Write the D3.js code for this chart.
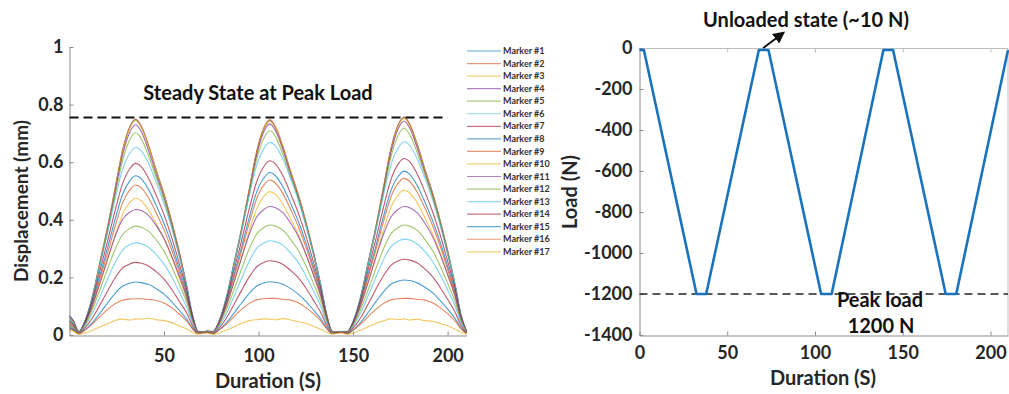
<!DOCTYPE html>
<html>
<head>
<meta charset="utf-8">
<script src="https://cdn.jsdelivr.net/npm/d3@7"></script>
<style>
  body { margin: 0; background: #fff; }
  text { font-family: Lato, "Open Sans", sans-serif; font-weight: 700; }
</style>
</head>
<body>
<svg id="chart" width="1009" height="394"></svg>
<script>
// ---- Displacement of 17 tracked markers over three load cycles (mm) ----
const time = [
  0, 2, 5, 8, 12, 16, 20, 24, 28, 32, 35, 38, 42, 46, 50, 54, 58, 62, 65, 68,
  71, 73, 76, 79, 83, 87, 91, 95, 99, 103, 106, 109, 113, 117, 121, 125, 129, 133, 136, 139,
  142, 144, 147, 150, 154, 158, 162, 166, 170, 174, 177, 180, 184, 188, 192, 196, 200, 204, 207, 210
];

const marker1 = [
  0.068,0.05,0.01,0.045,0.13,0.249,0.369,0.503,0.638,0.723,0.748,0.723,0.653,0.568,0.488,0.394,0.289,0.17,0.07,0.012,
  0.012,0.014,0.01,0.045,0.129,0.248,0.367,0.501,0.635,0.72,0.745,0.72,0.65,0.566,0.486,0.393,0.288,0.169,0.069,0.012,
  0.01,0.012,0.01,0.045,0.131,0.252,0.373,0.509,0.645,0.731,0.756,0.731,0.66,0.575,0.494,0.398,0.293,0.172,0.07,0.012
];
const marker2 = [
  0.062,0.048,0.01,0.045,0.13,0.25,0.37,0.505,0.64,0.725,0.75,0.725,0.655,0.57,0.49,0.395,0.29,0.17,0.07,0.012,
  0.011,0.013,0.01,0.045,0.129,0.249,0.369,0.503,0.638,0.723,0.748,0.723,0.653,0.568,0.488,0.394,0.289,0.17,0.07,0.012,
  0.01,0.012,0.01,0.045,0.131,0.252,0.373,0.509,0.646,0.732,0.757,0.732,0.661,0.575,0.494,0.399,0.293,0.172,0.07,0.012
];
const marker3 = [
  0.06,0.046,0.01,0.044,0.129,0.248,0.367,0.501,0.635,0.72,0.745,0.72,0.65,0.566,0.486,0.393,0.288,0.169,0.069,0.012,
  0.011,0.013,0.01,0.044,0.128,0.247,0.366,0.499,0.633,0.718,0.742,0.718,0.648,0.564,0.485,0.391,0.287,0.168,0.069,0.012,
  0.01,0.012,0.01,0.045,0.13,0.25,0.371,0.506,0.641,0.727,0.752,0.727,0.656,0.572,0.491,0.396,0.291,0.171,0.07,0.012
];
const marker4 = [
  0.064,0.05,0.01,0.044,0.126,0.243,0.36,0.491,0.623,0.706,0.73,0.706,0.637,0.555,0.477,0.385,0.283,0.166,0.068,0.012,
  0.011,0.013,0.01,0.044,0.127,0.244,0.361,0.493,0.625,0.709,0.733,0.709,0.64,0.557,0.479,0.386,0.284,0.166,0.068,0.012,
  0.01,0.012,0.01,0.045,0.128,0.247,0.366,0.499,0.633,0.718,0.742,0.718,0.648,0.564,0.485,0.391,0.287,0.168,0.069,0.012
];
const marker5 = [
  0.058,0.044,0.011,0.044,0.126,0.242,0.355,0.481,0.604,0.68,0.702,0.681,0.618,0.544,0.469,0.379,0.277,0.165,0.068,0.012,
  0.011,0.013,0.011,0.044,0.128,0.245,0.358,0.486,0.61,0.686,0.709,0.688,0.624,0.549,0.474,0.383,0.28,0.167,0.069,0.012,
  0.01,0.012,0.011,0.045,0.129,0.248,0.363,0.492,0.617,0.695,0.718,0.696,0.632,0.556,0.48,0.388,0.284,0.169,0.07,0.012
];
const marker6 = [
  0.055,0.04,0.013,0.046,0.13,0.241,0.352,0.469,0.574,0.632,0.652,0.639,0.593,0.528,0.456,0.372,0.274,0.17,0.072,0.013,
  0.011,0.013,0.013,0.047,0.134,0.248,0.361,0.482,0.589,0.649,0.669,0.656,0.609,0.542,0.468,0.381,0.281,0.174,0.074,0.013,
  0.01,0.012,0.013,0.047,0.134,0.248,0.362,0.483,0.59,0.651,0.671,0.658,0.611,0.544,0.47,0.382,0.282,0.174,0.074,0.013
];
const marker7 = [
  0.05,0.037,0.012,0.042,0.119,0.221,0.322,0.429,0.524,0.578,0.596,0.584,0.542,0.483,0.417,0.34,0.25,0.155,0.066,0.012,
  0.011,0.013,0.012,0.042,0.121,0.224,0.327,0.436,0.532,0.587,0.605,0.593,0.551,0.49,0.424,0.345,0.254,0.157,0.067,0.012,
  0.01,0.012,0.012,0.043,0.123,0.227,0.331,0.441,0.539,0.595,0.613,0.601,0.558,0.497,0.429,0.349,0.257,0.159,0.067,0.012
];
const marker8 = [
  0.048,0.035,0.011,0.039,0.111,0.205,0.299,0.398,0.487,0.536,0.553,0.542,0.503,0.448,0.387,0.315,0.232,0.144,0.061,0.011,
  0.01,0.012,0.011,0.039,0.113,0.209,0.305,0.406,0.496,0.547,0.564,0.553,0.513,0.457,0.395,0.321,0.237,0.147,0.062,0.011,
  0.01,0.012,0.011,0.04,0.114,0.211,0.307,0.41,0.501,0.552,0.569,0.558,0.518,0.461,0.398,0.324,0.239,0.148,0.063,0.011
];
const marker9 = [
  0.045,0.033,0.01,0.036,0.104,0.193,0.281,0.375,0.458,0.505,0.521,0.511,0.474,0.422,0.365,0.297,0.219,0.135,0.057,0.01,
  0.01,0.012,0.011,0.038,0.108,0.199,0.291,0.387,0.473,0.522,0.538,0.527,0.49,0.436,0.377,0.307,0.226,0.14,0.059,0.011,
  0.01,0.012,0.011,0.038,0.109,0.201,0.294,0.392,0.479,0.528,0.544,0.533,0.495,0.441,0.381,0.31,0.228,0.141,0.06,0.011
];
const marker10 = [
  0.042,0.03,0.01,0.033,0.095,0.176,0.257,0.342,0.418,0.461,0.475,0.466,0.432,0.385,0.333,0.271,0.2,0.124,0.052,0.01,
  0.01,0.012,0.01,0.035,0.1,0.184,0.269,0.359,0.438,0.483,0.498,0.488,0.453,0.403,0.349,0.284,0.209,0.129,0.055,0.01,
  0.01,0.012,0.01,0.035,0.101,0.186,0.272,0.362,0.443,0.488,0.503,0.493,0.458,0.407,0.352,0.287,0.211,0.131,0.055,0.01
];
const marker11 = [
  0.038,0.028,0.011,0.039,0.1,0.179,0.262,0.34,0.401,0.427,0.436,0.432,0.414,0.379,0.336,0.275,0.205,0.131,0.057,0.011,
  0.01,0.012,0.011,0.04,0.103,0.183,0.268,0.348,0.41,0.437,0.446,0.442,0.424,0.388,0.343,0.281,0.21,0.134,0.058,0.011,
  0.01,0.012,0.011,0.04,0.103,0.183,0.268,0.348,0.41,0.437,0.446,0.442,0.424,0.388,0.343,0.281,0.21,0.134,0.058,0.011
];
const marker12 = [
  0.035,0.025,0.009,0.034,0.087,0.155,0.227,0.295,0.348,0.37,0.378,0.374,0.359,0.329,0.291,0.238,0.178,0.113,0.049,0.009,
  0.01,0.011,0.01,0.034,0.088,0.157,0.229,0.298,0.351,0.374,0.382,0.378,0.363,0.332,0.294,0.241,0.18,0.115,0.05,0.01,
  0.01,0.011,0.01,0.034,0.088,0.157,0.229,0.298,0.351,0.374,0.382,0.378,0.363,0.332,0.294,0.241,0.18,0.115,0.05,0.01
];
const marker13 = [
  0.03,0.022,0.008,0.029,0.074,0.131,0.192,0.25,0.294,0.314,0.32,0.317,0.304,0.278,0.246,0.202,0.15,0.096,0.042,0.008,
  0.01,0.011,0.008,0.029,0.075,0.134,0.196,0.255,0.301,0.32,0.327,0.324,0.311,0.284,0.252,0.206,0.154,0.098,0.043,0.008,
  0.01,0.011,0.008,0.03,0.077,0.137,0.2,0.26,0.306,0.326,0.333,0.33,0.316,0.29,0.256,0.21,0.157,0.1,0.043,0.008
];
const marker14 = [
  0.027,0.02,0.006,0.023,0.058,0.103,0.151,0.197,0.232,0.247,0.252,0.249,0.239,0.219,0.194,0.159,0.118,0.076,0.033,0.006,
  0.009,0.01,0.006,0.023,0.059,0.106,0.155,0.201,0.237,0.253,0.258,0.255,0.245,0.224,0.199,0.163,0.121,0.077,0.034,0.006,
  0.009,0.01,0.007,0.024,0.06,0.108,0.158,0.205,0.242,0.258,0.263,0.26,0.25,0.229,0.203,0.166,0.124,0.079,0.034,0.007
];
const marker15 = [
  0.024,0.018,0.005,0.017,0.042,0.075,0.11,0.144,0.169,0.18,0.184,0.182,0.175,0.16,0.142,0.116,0.086,0.055,0.024,0.005,
  0.008,0.009,0.005,0.017,0.043,0.076,0.111,0.144,0.17,0.181,0.185,0.183,0.176,0.161,0.142,0.117,0.087,0.056,0.024,0.005,
  0.008,0.009,0.005,0.017,0.044,0.078,0.115,0.149,0.176,0.187,0.191,0.189,0.181,0.166,0.147,0.12,0.09,0.057,0.025,0.005
];
const marker16 = [
  0.02,0.015,0.005,0.016,0.038,0.063,0.088,0.108,0.121,0.125,0.126,0.126,0.123,0.12,0.111,0.095,0.073,0.048,0.023,0.005,
  0.008,0.009,0.005,0.017,0.038,0.064,0.089,0.109,0.122,0.126,0.127,0.127,0.124,0.121,0.112,0.095,0.074,0.048,0.023,0.005,
  0.008,0.009,0.005,0.017,0.038,0.064,0.089,0.109,0.122,0.126,0.127,0.127,0.124,0.121,0.112,0.095,0.074,0.048,0.023,0.005
];
const marker17 = [
  0.018,0.013,0.002,0.007,0.016,0.028,0.038,0.05,0.055,0.052,0.056,0.055,0.058,0.053,0.05,0.043,0.032,0.021,0.01,0.003,
  0.006,0.007,0.002,0.007,0.017,0.029,0.04,0.05,0.053,0.056,0.055,0.053,0.057,0.052,0.046,0.041,0.03,0.02,0.01,0.003,
  0.006,0.007,0.002,0.007,0.017,0.029,0.04,0.049,0.056,0.053,0.056,0.052,0.055,0.05,0.048,0.04,0.032,0.02,0.01,0.003
];

const markerSeries = [marker1, marker2, marker3, marker4, marker5, marker6, marker7, marker8, marker9,
                      marker10, marker11, marker12, marker13, marker14, marker15, marker16, marker17];
const markerNames = ["Marker #1","Marker #2","Marker #3","Marker #4","Marker #5","Marker #6","Marker #7",
  "Marker #8","Marker #9","Marker #10","Marker #11","Marker #12","Marker #13","Marker #14","Marker #15",
  "Marker #16","Marker #17"];
const lineColors = ["#0072BD","#D95319","#EDB120","#7E2F8E","#77AC30","#4DBEEE","#A2142F"];

const dispTicksX = [50, 100, 150, 200];
const dispTicksY = [0, 0.2, 0.4, 0.6, 0.8, 1];
const steadyState = { from: 0, to: 200, value: 0.755 };

// ---- Applied load over the same three cycles (N) ----
const loadTime  = [0, 2.5, 32.5, 38, 68, 73.5, 103.5, 109.5, 139, 144.5, 174.5, 180.5, 210];
const loadValue = [-10, -10, -1200, -1200, -10, -10, -1200, -1200, -10, -10, -1200, -1200, -10];
const loadTicksX = [0, 50, 100, 150, 200];
const loadTicksY = [0, -200, -400, -600, -800, -1000, -1200, -1400];
const peakLoad = -1200;
const unloadedPoint = { t: 70.5, load: -10 };

const svg = d3.select("#chart");
const ink = "#262626";
const axisGray = "#8a8a8a";

function styleAxis(g, fontSize) {
  g.select(".domain").attr("stroke", axisGray).attr("stroke-width", 1);
  g.selectAll(".tick line").attr("stroke", axisGray);
  g.selectAll(".tick text").attr("fill", ink).attr("font-size", fontSize)
    .attr("font-family", "Lato, 'Open Sans', sans-serif").attr("font-weight", 700);
}

// ================= Left panel: displacement =================
const xL = d3.scaleLinear().domain([0, 210]).range([69.5, 466.5]);
const yL = d3.scaleLinear().domain([0, 1]).range([335, 47]);

const lineL = d3.line()
  .x((d, i) => xL(time[i]))
  .y(d => yL(d))
  .curve(d3.curveMonotoneX);

const gL = svg.append("g");
gL.selectAll("path.marker")
  .data(markerSeries)
  .join("path")
  .attr("class", "marker")
  .attr("d", d => lineL(d))
  .attr("fill", "none")
  .attr("stroke", (d, i) => lineColors[i % lineColors.length])
  .attr("stroke-width", 1.1)
  .attr("stroke-opacity", 0.7);

const axLx = svg.append("g").attr("transform", "translate(0,335.5)")
  .call(d3.axisBottom(xL).tickValues(dispTicksX).tickFormat(d => String(d))
    .tickSizeInner(-4).tickSizeOuter(0).tickPadding(14));
styleAxis(axLx, 18);

const axLy = svg.append("g").attr("transform", "translate(69.5,0)")
  .call(d3.axisLeft(yL).tickValues(dispTicksY)
    .tickFormat(d => (d === 0 || d === 1) ? String(d) : d3.format(".1f")(d))
    .tickSizeInner(-4).tickSizeOuter(0).tickPadding(6));
styleAxis(axLy, 18);

// steady-state reference line
svg.append("line")
  .attr("x1", xL(steadyState.from)).attr("x2", xL(steadyState.to))
  .attr("y1", yL(steadyState.value)).attr("y2", yL(steadyState.value))
  .attr("stroke", "#111").attr("stroke-width", 2).attr("stroke-dasharray", "9,5");

svg.append("text").attr("x", 258).attr("y", 100).attr("text-anchor", "middle")
  .attr("font-size", 20).attr("fill", "#111").text("Steady State at Peak Load");

svg.append("text").attr("x", 268).attr("y", 388).attr("text-anchor", "middle")
  .attr("font-size", 20).attr("fill", ink).text("Duration (S)");

svg.append("text").attr("transform", "translate(28,201) rotate(-90)")
  .attr("text-anchor", "middle").attr("font-size", 19).attr("fill", ink).text("Displacement (mm)");

// legend
const legend = svg.append("g");
const legRows = legend.selectAll("g").data(markerNames).join("g")
  .attr("transform", (d, i) => `translate(467,${51 + i * 12.55})`);
legRows.append("line").attr("x1", 0).attr("x2", 34)
  .attr("stroke", (d, i) => lineColors[i % lineColors.length])
  .attr("stroke-width", 1.2).attr("stroke-opacity", 0.6);
legRows.append("text").attr("x", 36).attr("dy", "0.35em")
  .attr("font-size", 9).attr("fill", "#333").text(d => d);

// ================= Right panel: load =================
const xR = d3.scaleLinear().domain([0, 210]).range([639.5, 1008]);
const yR = d3.scaleLinear().domain([-1400, 0]).range([335, 48]);

// frame (top / right)
svg.append("line").attr("x1", 639.5).attr("x2", 1008).attr("y1", 48.5).attr("y2", 48.5)
  .attr("stroke", "#bdbdbd");
svg.append("line").attr("x1", 1008).attr("x2", 1008).attr("y1", 48.5).attr("y2", 335.5)
  .attr("stroke", "#bdbdbd");
svg.append("g").attr("transform", "translate(0,48.5)")
  .call(d3.axisTop(xR).tickValues(loadTicksX.slice(1)).tickFormat("").tickSizeInner(-4).tickSizeOuter(0))
  .call(g => { g.select(".domain").remove(); g.selectAll("line").attr("stroke", "#bdbdbd"); });

const axRx = svg.append("g").attr("transform", "translate(0,335.5)")
  .call(d3.axisBottom(xR).tickValues(loadTicksX).tickFormat(d => String(d))
    .tickSizeInner(-4).tickSizeOuter(0).tickPadding(11));
styleAxis(axRx, 18);

const axRy = svg.append("g").attr("transform", "translate(639.5,0)")
  .call(d3.axisLeft(yR).tickValues(loadTicksY).tickFormat(d => String(d))
    .tickSizeInner(-4).tickSizeOuter(0).tickPadding(7));
styleAxis(axRy, 18);

// peak load reference
svg.append("line")
  .attr("x1", xR(0)).attr("x2", xR(210))
  .attr("y1", yR(peakLoad)).attr("y2", yR(peakLoad))
  .attr("stroke", "#222").attr("stroke-width", 1.6).attr("stroke-dasharray", "8,5");

const lineR = d3.line().x((d, i) => xR(loadTime[i])).y(d => yR(d));
svg.append("path").attr("d", lineR(loadValue))
  .attr("fill", "none").attr("stroke", "#1a73bd").attr("stroke-width", 2.6)
  .attr("stroke-linejoin", "round");

svg.append("text").attr("x", 880).attr("y", 307).attr("text-anchor", "middle")
  .attr("font-size", 20).attr("fill", "#111").text("Peak load");
svg.append("text").attr("x", 881).attr("y", 333).attr("text-anchor", "middle")
  .attr("font-size", 20).attr("fill", "#111").text("1200 N");

svg.append("text").attr("x", 806).attr("y", 27).attr("text-anchor", "middle")
  .attr("font-size", 20).attr("fill", "#111").text("Unloaded state (~10 N)");

// arrow to the unloaded plateau
svg.append("defs").append("marker").attr("id", "arrowhead")
  .attr("viewBox", "0 0 10 10").attr("refX", 8).attr("refY", 5)
  .attr("markerWidth", 6).attr("markerHeight", 6).attr("orient", "auto")
  .append("path").attr("d", "M0,0 L10,5 L0,10 z").attr("fill", "#111");
const ax0 = xR(unloadedPoint.t), ay0 = yR(unloadedPoint.load) - 2;
svg.append("line").attr("x1", ax0).attr("y1", ay0).attr("x2", ax0 + 20).attr("y2", ay0 - 15)
  .attr("stroke", "#111").attr("stroke-width", 2).attr("marker-end", "url(#arrowhead)");

svg.append("text").attr("x", 823).attr("y", 385).attr("text-anchor", "middle")
  .attr("font-size", 20).attr("fill", ink).text("Duration (S)");
svg.append("text").attr("transform", "translate(577,192) rotate(-90)")
  .attr("text-anchor", "middle").attr("font-size", 20).attr("fill", ink).text("Load (N)");
</script>
</body>
</html>
